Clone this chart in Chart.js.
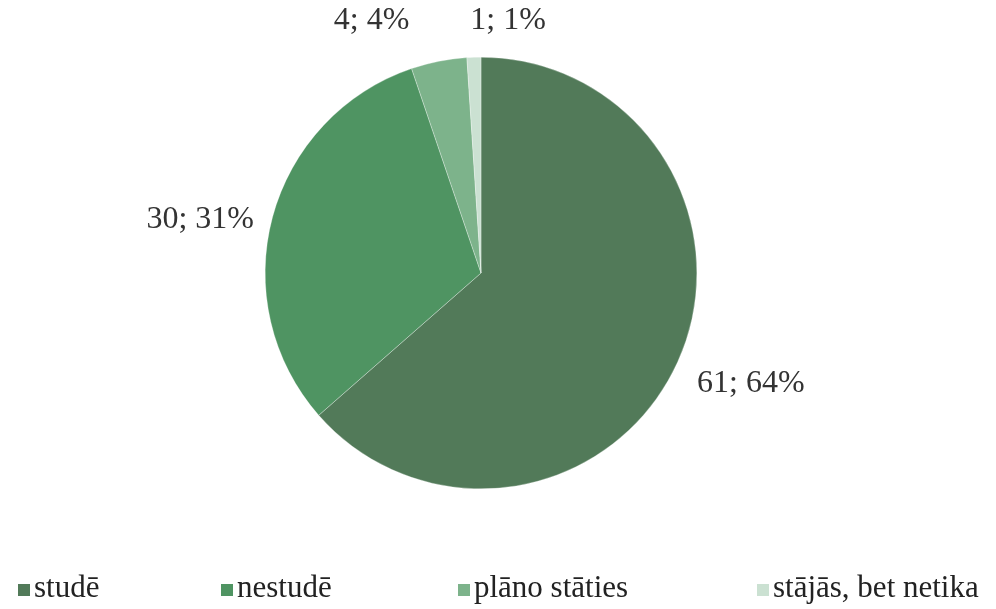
<!DOCTYPE html>
<html>
<head>
<meta charset="utf-8">
<script src="https://cdn.jsdelivr.net/npm/chart.js@4"></script>
<style>
  html, body { margin: 0; padding: 0; background: #fff; }
  .wrap { position: relative; width: 996px; height: 609px; }
  canvas { position: absolute; left: 0; top: 0; }
  .legend { position: absolute; top: 572px; left: 0; width: 996px; height: 30px; font-family: "Liberation Serif", serif; font-size: 31px; color: #222; }
  .legend__el { position: absolute; top: 0; white-space: nowrap; line-height: 30px; }
  .legend__box { display: inline-block; width: 12px; height: 12px; margin-right: 4px; vertical-align: 1px; }
</style>
</head>
<body>
<div class="wrap">
  <canvas id="myChart" width="996" height="609"></canvas>
  <div class="legend" id="legend"></div>
</div>
<script>
// donnees du graphique
const labels = ['studē', 'nestudē', 'plāno stāties', 'stājās, bet netika'];
const values = [61, 30, 4, 1];
const percents = [64, 31, 4, 1];
const colors = ['#527a59', '#4f9462', '#7db38b', '#cbe1d2'];

// mise en page (pas des donnees)
const legendX = [18, 221, 458, 757];
const labelNudge = [[6, 8], [-1, 11], [-56, -8], [36, -4]];

// etiquettes "valeur; %" autour du camembert
const outerLabels = {
  id: 'outerLabels',
  afterDatasetsDraw(chart) {
    const ctx = chart.ctx;
    const meta = chart.getDatasetMeta(0);
    ctx.save();
    ctx.font = '32px "Liberation Serif"';
    ctx.fillStyle = '#333';
    ctx.textAlign = 'center';
    ctx.textBaseline = 'middle';
    meta.data.forEach((arc, i) => {
      const p = arc.getProps(['x', 'y', 'startAngle', 'endAngle', 'outerRadius'], true);
      const mid = (p.startAngle + p.endAngle) / 2;
      const dx = Math.cos(mid);
      const dy = Math.sin(mid);
      const txt = values[i] + '; ' + percents[i] + '%';
      const w = ctx.measureText(txt).width;
      const h = 26;
      const r = p.outerRadius + 20;
      const x = p.x + dx * r + dx * w / 2 + labelNudge[i][0];
      const y = p.y + dy * r + dy * h / 2 + labelNudge[i][1];
      ctx.fillText(txt, x, y);
    });
    ctx.restore();
  }
};

const canvasElement = document.getElementById('myChart');
const myGraph = new Chart(canvasElement, {
  type: 'pie',
  data: {
    labels: labels,
    datasets: [{
      data: values,
      backgroundColor: colors,
      borderColor: '#ffffff',
      borderWidth: 0.3
    }]
  },
  options: {
    responsive: false,
    animation: false,
    layout: { padding: { top: 57, bottom: 120, left: 0, right: 34 } },
    plugins: {
      legend: { display: false },
      tooltip: { enabled: false }
    }
  },
  plugins: [outerLabels]
});

// legende en html
const legend = document.getElementById('legend');
labels.forEach((lab, i) => {
  const el = document.createElement('div');
  el.className = 'legend__el';
  el.style.left = legendX[i] + 'px';
  el.innerHTML = '<span class="legend__box" style="background:' + colors[i] + '"></span>' + lab;
  legend.appendChild(el);
});
</script>
</body>
</html>
